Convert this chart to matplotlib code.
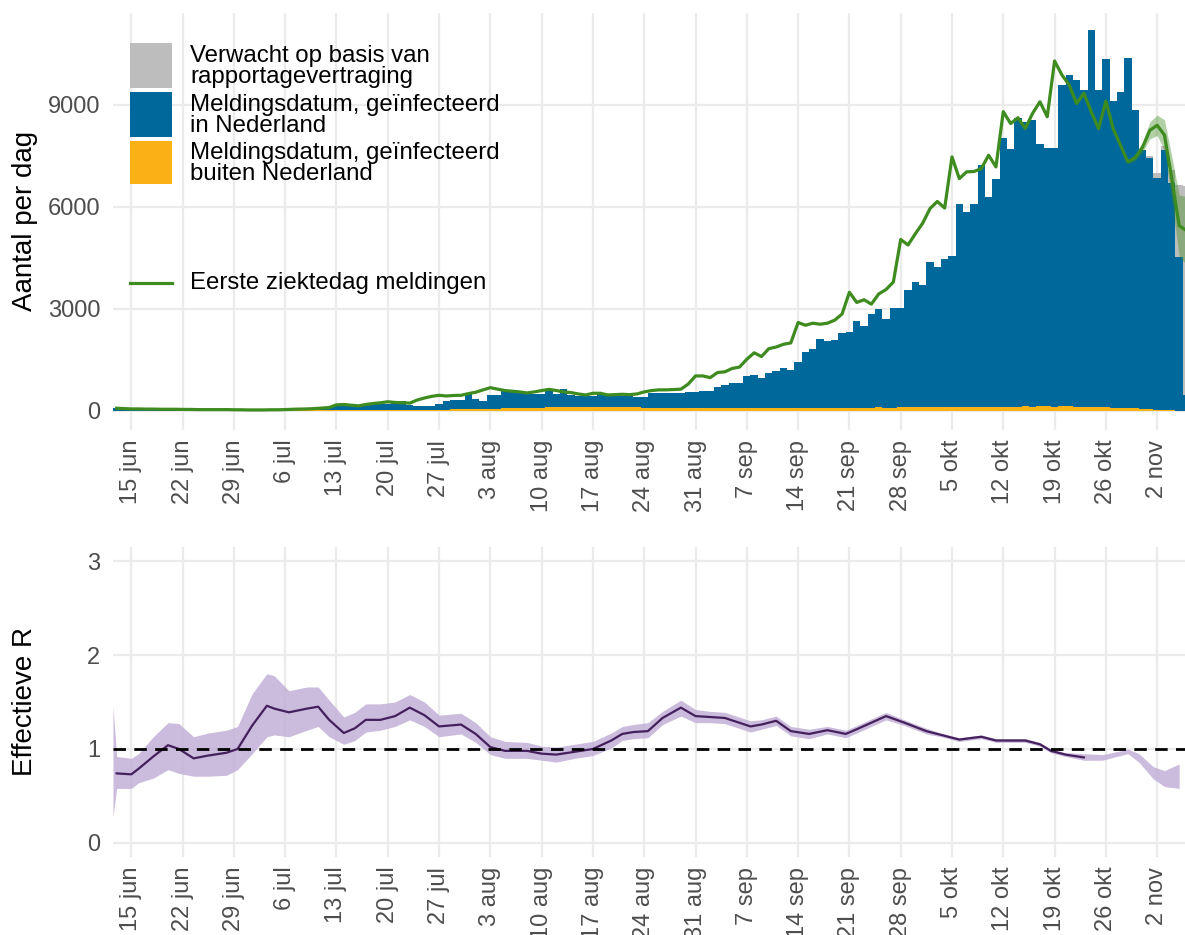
import numpy as np
import pandas as pd
import matplotlib
matplotlib.use("Agg")
import matplotlib.pyplot as plt
import matplotlib.dates as mdates
from matplotlib.patches import Rectangle
from matplotlib.lines import Line2D

plt.rcParams['font.family'] = ['Liberation Sans', 'DejaVu Sans']

# ---------------- data ----------------
first_day = "2020-06-13"          # first bar
ref_day = "2020-06-15"            # day offsets below are relative to this date

tick_labels = ["15 jun", "22 jun", "29 jun", "6 jul", "13 jul", "20 jul", "27 jul",
               "3 aug", "10 aug", "17 aug", "24 aug", "31 aug", "7 sep", "14 sep",
               "21 sep", "28 sep", "5 okt", "12 okt", "19 okt", "26 okt", "2 nov"]

# reported cases per day (infected in NL + abroad), 13 jun .. 6 nov
meld_totaal = [100, 90, 80, 85, 70, 80, 75, 70,
               65, 60, 65, 55, 60, 55, 50, 55,
               45, 40, 35, 40, 35, 40, 45,
               50, 55, 60, 70, 80, 90, 110,
               150, 160, 140, 170, 180, 190, 200,
               210, 230,
               293, 161, 150, 142, 142, 200, 300,
               320, 320, 513, 337, 293, 464, 464,
               581, 581, 581, 552, 513, 513, 659,
               513, 655, 470, 445, 425, 433, 500,
               500, 460, 450, 460, 420, 420, 520,
               515, 530, 525, 525, 552, 552, 600,
               600, 718, 777, 815, 827, 1030, 1060,
               975, 1110, 1170, 1250, 1200, 1450, 1730,
               1830, 2120, 2056, 2100, 2300, 2320, 2646,
               2500, 2843, 3010, 2715, 3040, 3040, 3560,
               3796, 3700, 4386, 4220, 4465, 4563, 6088,
               5840, 6088, 7218, 6284, 6825, 8025, 7690,
               8615, 8500, 8560, 7858, 7730, 7730, 9578,
               9873, 9726, 9431, 11190, 9431, 10345, 9106,
               9382, 10365, 8840, 7660, 7435, 6845, 7680,
               6700, 4520, 480]

# of which infected abroad
meld_buiten = [10] * 23 + [15, 15, 20, 20, 20, 25, 25, 25, 25, 30, 30, 30, 30, 30, 30, 30] + \
              [30, 30, 35, 35, 40, 40, 40, 45, 45, 50, 50, 55, 55, 60] + \
              [80, 85, 90, 90, 95, 95] + \
              [120, 125, 130, 125, 130, 120, 115, 120, 115, 110, 115, 110, 105] + \
              [100, 100, 95, 95, 90, 95, 90, 90, 85] + \
              [85, 80, 80, 85, 80, 80, 80, 85, 80, 80, 85, 90, 85, 90,
               90, 95, 90, 90, 95, 100, 95, 100, 100, 105, 100, 100, 105, 110,
               110, 115, 110, 115, 120, 115, 120, 120, 125, 120, 125, 130, 125, 130,
               130, 135, 130, 140, 135, 130, 135, 140, 130, 125, 120, 115, 110, 100,
               95, 90, 80, 70, 60, 40, 30, 20, 10, 5]

# expected extra cases due to reporting delay (last days)
verwacht_days = [139, 140, 141, 142, 143, 144]
verwacht_extra = [60, 150, 100, 380, 2120, 6120]

# first day of illness of reported cases
ziektedag = [80, 70, 60, 60, 55, 55, 50, 50,
             50, 45, 45, 40, 40, 40, 40, 40,
             35, 35, 30, 30, 30, 35, 35,
             40, 50, 55, 60, 70, 85, 100,
             180, 190, 170, 150, 190, 220, 240,
             270, 250,
             240, 230, 320, 380, 430, 460, 440,
             455, 460, 510, 550, 620, 685, 640,
             600, 580, 560, 530, 560, 600, 635,
             600, 560, 540, 500, 470, 520, 520,
             470, 480, 490, 480, 500, 560, 600,
             620, 620, 630, 640, 790, 1030, 1030,
             980, 1130, 1150, 1250, 1290, 1520, 1710,
             1600, 1830, 1880, 1960, 2000, 2600, 2520,
             2580, 2550, 2580, 2670, 2850, 3490, 3190,
             3270, 3140, 3440, 3570, 3790, 5040, 4880,
             5210, 5520, 5950, 6160, 5965, 7470, 6830,
             7030, 7040, 7125, 7520, 7175, 8800, 8450,
             8620, 8305, 8750, 9090, 8650, 10290, 9880,
             9580, 9040, 9340, 8800, 8300, 9110, 8300,
             7810, 7320, 7450, 7750, 8250, 8400, 8110,
             6830, 5450, 5300]
ziekte_band_days = [136, 137, 138, 139, 140, 141, 142, 143, 144]
ziekte_lo = [7270, 7350, 7600, 8000, 8100, 7660, 6180, 4550, 4300]
ziekte_hi = [7370, 7550, 7900, 8500, 8700, 8560, 7480, 6350, 6300]

# effective R (estimate + band), day offsets relative to 15 jun
r_days = [-2.5, -2, 0, 1, 3, 5, 6.5, 8.5, 10.5, 13, 14.5, 16.5, 18.5, 19.5, 21.5, 24,
          25.5, 27, 29, 30.5, 32, 34, 36, 38, 40, 42, 45, 47, 49, 51, 54, 56, 58,
          60.5, 63, 65.5, 67, 68.5, 70.5, 72.5, 75, 77, 79, 81, 84.5, 86, 88, 90,
          92.5, 95, 97.5, 99, 103, 105.5, 108.5, 110.5, 113, 116, 118, 122, 124,
          125.5, 127.5, 130]
r_mid = [0.74, 0.74, 0.73, 0.79, 0.92, 1.04, 1.00, 0.90, 0.93, 0.96, 1.00, 1.25, 1.46, 1.43, 1.39, 1.43,
         1.45, 1.31, 1.17, 1.22, 1.31, 1.31, 1.35, 1.44, 1.36, 1.24, 1.26, 1.16, 1.02, 0.98, 0.98, 0.95, 0.94,
         0.97, 1.00, 1.09, 1.16, 1.18, 1.19, 1.33, 1.44, 1.35, 1.34, 1.33, 1.24, 1.26, 1.30, 1.19,
         1.16, 1.20, 1.16, 1.21, 1.35, 1.28, 1.19, 1.15, 1.10, 1.13, 1.09, 1.09, 1.05,
         0.98, 0.94, 0.91]
r_lo = [0.28, 0.58, 0.58, 0.64, 0.69, 0.78, 0.74, 0.71, 0.71, 0.72, 0.78, 0.95, 1.13, 1.15, 1.13, 1.20,
        1.24, 1.13, 1.05, 1.09, 1.18, 1.20, 1.24, 1.31, 1.24, 1.13, 1.16, 1.07, 0.94, 0.90, 0.90, 0.88, 0.86,
        0.90, 0.93, 1.01, 1.09, 1.11, 1.12, 1.26, 1.35, 1.28, 1.28, 1.27, 1.18, 1.21, 1.25, 1.14,
        1.11, 1.16, 1.12, 1.17, 1.31, 1.25, 1.16, 1.13, 1.08, 1.11, 1.07, 1.07, 1.03,
        0.96, 0.92, 0.88]
r_hi = [1.45, 0.92, 0.90, 0.95, 1.13, 1.28, 1.27, 1.13, 1.17, 1.20, 1.24, 1.59, 1.80, 1.78, 1.62, 1.66,
        1.66, 1.52, 1.34, 1.39, 1.48, 1.48, 1.50, 1.58, 1.50, 1.36, 1.38, 1.28, 1.13, 1.08, 1.07, 1.03, 1.02,
        1.05, 1.08, 1.17, 1.24, 1.26, 1.28, 1.40, 1.52, 1.42, 1.40, 1.39, 1.30, 1.31, 1.35, 1.24,
        1.21, 1.24, 1.20, 1.25, 1.39, 1.31, 1.22, 1.17, 1.12, 1.15, 1.11, 1.11, 1.07,
        1.00, 0.96, 0.95]
# band only (no point estimate) for the most recent days
r_tail_days = [132.5, 135, 136, 137.5, 139.5, 141, 143]
r_tail_lo = [0.88, 0.93, 0.95, 0.86, 0.68, 0.60, 0.58]
r_tail_hi = [0.94, 0.98, 1.00, 0.95, 0.81, 0.77, 0.84]

# ---------------- styling ----------------
C_GREY = "#bdbdbd"
C_BLUE = "#01689b"
C_YELLOW = "#f9b116"
C_GREEN = "#3e8b1f"
C_RLINE = "#44205c"
C_RBAND = "#c2afd6"
C_GRID = "#ebebeb"
C_TICK = "#4d4d4d"
TICK_FS = 17
LEG_FS = 17.3
TITLE_FS = 20

W, H = 1185, 935
fig = plt.figure(figsize=(W / 100, H / 100), dpi=100)

def fx(px):
    return px / W

def fy(py):
    return 1 - py / H

ax1 = fig.add_axes([fx(113), fy(430), fx(1185) - fx(113), fy(13) - fy(430)])
ax2 = fig.add_axes([fx(113), fy(857), fx(1185) - fx(113), fy(547) - fy(857)])

base = pd.Timestamp(ref_day)
start = pd.Timestamp(first_day)
n = len(meld_totaal)
dates = pd.date_range(start, periods=n, freq="D")
xd = mdates.date2num(dates)

def off2num(offs):
    return mdates.date2num(base) + np.asarray(offs, dtype=float)

tot = np.array(meld_totaal, dtype=float)
bui = np.array(meld_buiten, dtype=float)
binnen = tot - bui
extra = np.zeros(n)
for d, v in zip(verwacht_days, verwacht_extra):
    extra[int(d + (base - start).days)] = v

# ---- top panel ----
ax1.bar(xd, bui, width=1.0, color=C_YELLOW, linewidth=0, zorder=2)
ax1.bar(xd, binnen, bottom=bui, width=1.0, color=C_BLUE, linewidth=0, zorder=2)
ax1.bar(xd, extra, bottom=tot, width=1.0, color=C_GREY, linewidth=0, zorder=2)
ax1.fill_between(off2num(ziekte_band_days), ziekte_lo, ziekte_hi, color=C_GREEN,
                 alpha=0.4, linewidth=0, zorder=3)
ax1.plot(xd, ziektedag, color=C_GREEN, lw=2.3, zorder=4)

ax1.set_ylim(-560, 11700)
ax1.set_yticks([0, 3000, 6000, 9000])

# ---- bottom panel ----
ax2.fill_between(off2num(r_days), r_lo, r_hi, color=C_RBAND, alpha=0.85, linewidth=0, zorder=2)
ax2.fill_between(off2num([r_days[-1]] + r_tail_days), [r_lo[-1]] + r_tail_lo,
                 [r_hi[-1]] + r_tail_hi, color=C_RBAND, alpha=0.85, linewidth=0, zorder=2)
ax2.plot(off2num(r_days[1:]), r_mid[1:], color=C_RLINE, lw=1.6, zorder=3)
ax2.axhline(1, color="black", lw=2.0, linestyle=(0, (4.5, 3)), zorder=4)
ax2.set_ylim(-0.15, 3.15)
ax2.set_yticks([0, 1, 2, 3])

tick_pos = mdates.date2num(pd.date_range(base, periods=len(tick_labels), freq="7D"))
xlo = mdates.date2num(base) - 2.5
xhi = mdates.date2num(base) + 143.8
for ax in (ax1, ax2):
    ax.set_xlim(xlo, xhi)
    ax.set_xticks(tick_pos)
    ax.set_xticklabels(tick_labels, rotation=90, ha="center", va="top")
    ax.tick_params(axis="both", length=0, labelsize=TICK_FS, labelcolor=C_TICK)
    ax.tick_params(axis="x", pad=7)
    ax.tick_params(axis="y", pad=9)
    for s in ax.spines.values():
        s.set_visible(False)
    ax.grid(True, color=C_GRID, lw=1.6)
    ax.set_axisbelow(True)
    ax.set_facecolor("white")

fig.text(fx(25), fy(221), "Aantal per dag", rotation=90, ha="center", va="center", fontsize=TITLE_FS)
fig.text(fx(25), fy(702), "Effectieve R", rotation=90, ha="center", va="center", fontsize=TITLE_FS)

# ---- legend (drawn in figure pixel coordinates) ----
keys = [(43, 88, C_GREY, "Verwacht op basis van\nrapportagevertraging"),
        (92, 137, C_BLUE, "Meldingsdatum, geïnfecteerd\nin Nederland"),
        (141, 184, C_YELLOW, "Meldingsdatum, geïnfecteerd\nbuiten Nederland")]
for top, bot, col, lab in keys:
    fig.add_artist(Rectangle((fx(130), fy(bot)), fx(172) - fx(130), fy(top) - fy(bot),
                             transform=fig.transFigure, facecolor=col, edgecolor="none"))
    fig.text(fx(190), fy((top + bot) / 2 + 1), lab, ha="left", va="center",
             fontsize=LEG_FS, linespacing=0.95, color="black")
fig.add_artist(Line2D([fx(130), fx(172)], [fy(283), fy(283)], transform=fig.transFigure,
                      color=C_GREEN, lw=2.3))
fig.text(fx(190), fy(283), "Eerste ziektedag meldingen", ha="left", va="center",
         fontsize=LEG_FS, color="black")

fig.savefig("out.png", dpi=100, facecolor="white")
